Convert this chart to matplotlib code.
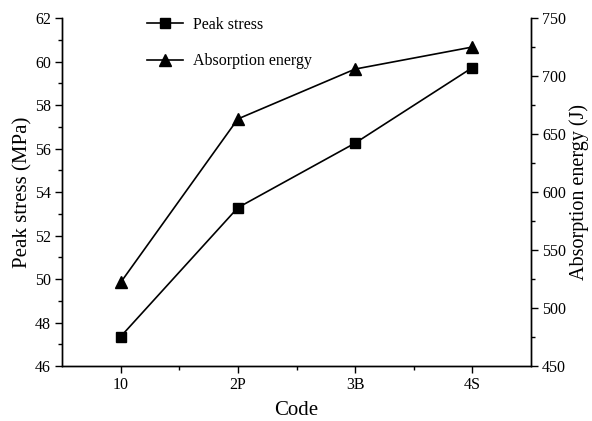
import matplotlib
matplotlib.use("Agg")
import matplotlib.pyplot as plt
from matplotlib.ticker import MultipleLocator, FixedLocator

plt.rcParams["font.family"] = ["Liberation Serif", "DejaVu Serif"]

codes = ["10", "2P", "3B", "4S"]
peak_stress = [47.35, 53.28, 56.25, 59.72]        # MPa
absorption_energy = [522, 663, 706, 725]          # J

fig = plt.figure(figsize=(5.92, 4.21), dpi=100)
ax = fig.add_axes([0.1047, 0.1306, 0.7923, 0.8266])
ax2 = ax.twinx()

x = list(range(len(codes)))
l1, = ax.plot(x, peak_stress, color="black", lw=1.2, marker="s", ms=7,
              label="Peak stress")
l2, = ax2.plot(x, absorption_energy, color="black", lw=1.2, marker="^", ms=8.5,
               label="Absorption energy")

ax.set_xlim(-0.5, 3.5)
ax.set_ylim(46, 62)
ax2.set_ylim(450, 750)

ax.set_xticks(x)
ax.set_xticklabels(codes)
ax.xaxis.set_minor_locator(FixedLocator([0.5, 1.5, 2.5]))
ax.yaxis.set_major_locator(MultipleLocator(2))
ax.yaxis.set_minor_locator(MultipleLocator(1))
ax2.yaxis.set_major_locator(MultipleLocator(50))
ax2.yaxis.set_minor_locator(MultipleLocator(25))

for a in (ax, ax2):
    a.spines["top"].set_visible(False)
    for s in a.spines.values():
        s.set_linewidth(1.0)
    a.tick_params(which="major", direction="out", length=5, width=1.0,
                  labelsize=11.5, pad=3)
    a.tick_params(which="minor", direction="out", length=3, width=1.0)
ax2.tick_params(axis="y", which="both", right=True, labelright=True)

ax.set_xlabel("Code", fontsize=15, labelpad=6)
ax.set_ylabel("Peak stress (MPa)", fontsize=15, labelpad=2)
ax2.set_ylabel("Absorption energy (J)", fontsize=14.5, labelpad=2)

ax.legend([l1, l2], ["Peak stress", "Absorption energy"],
          loc="upper left", bbox_to_anchor=(0.15, 1.045), frameon=False,
          fontsize=11.5, handlelength=2.3, handletextpad=0.6,
          labelspacing=1.3)

fig.savefig("out.png", dpi=100)
